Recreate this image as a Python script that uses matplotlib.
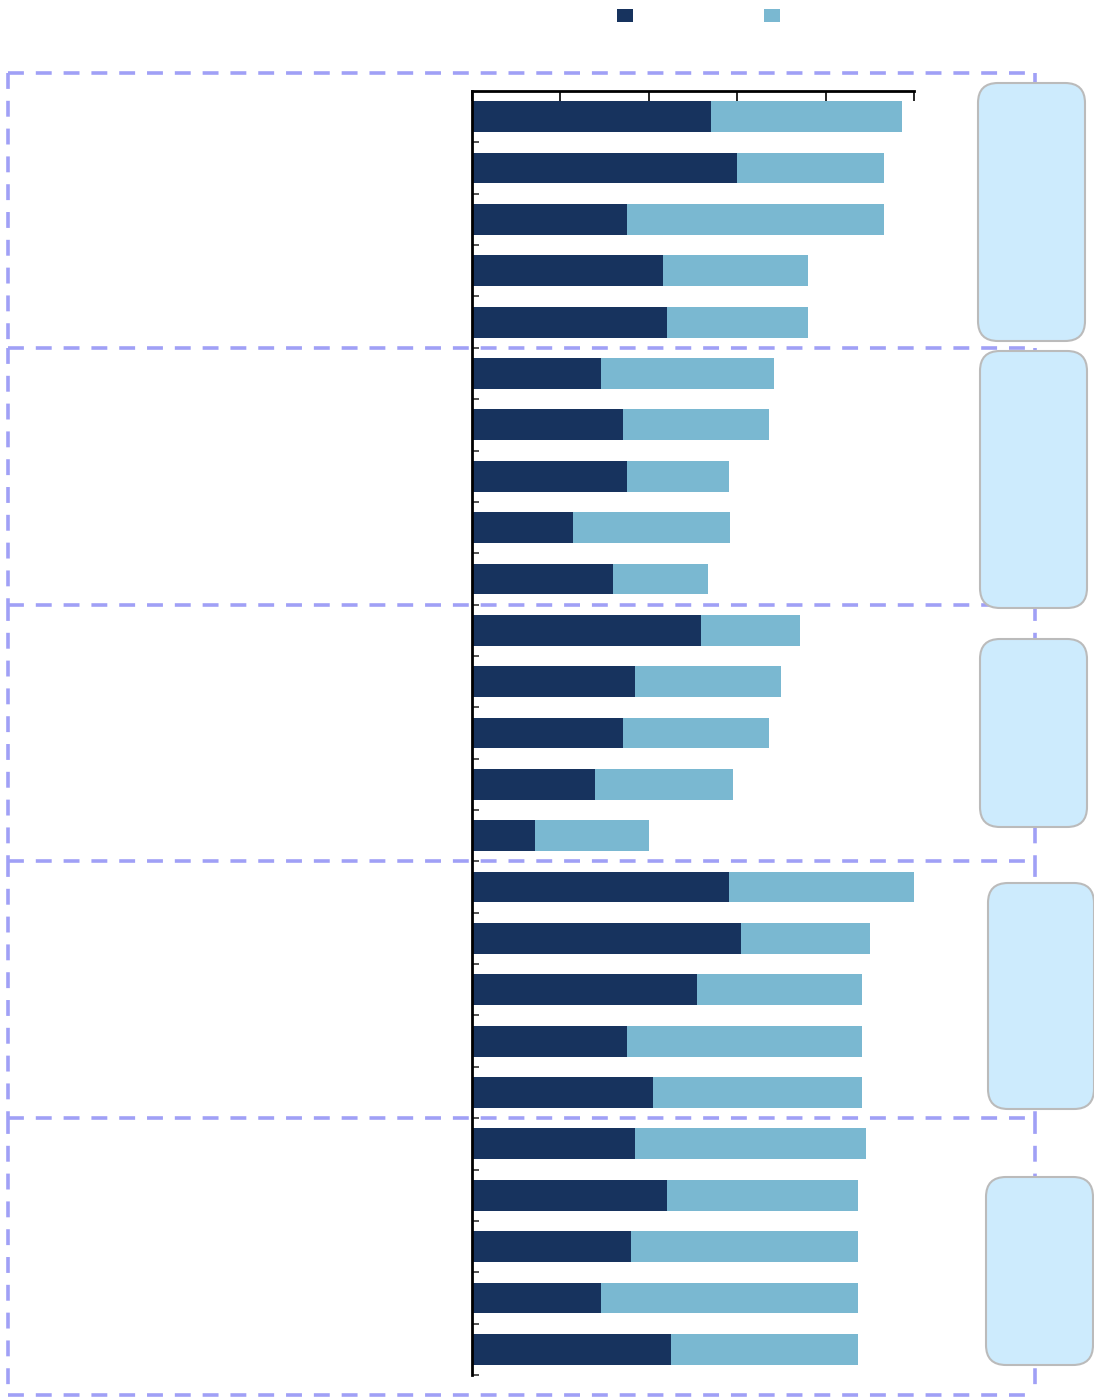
import matplotlib
matplotlib.use("Agg")
import matplotlib.pyplot as plt
import matplotlib.transforms as mtransforms
from matplotlib.patches import FancyBboxPatch, Patch
import numpy as np

# data (scale 0-100)
first_series = [54.1, 60.0, 35.1, 43.2, 44.1,
                29.2, 34.2, 35.1, 22.9, 31.9,
                51.8, 36.9, 34.2, 27.8, 14.3,
                58.1, 60.9, 50.9, 35.1, 41.0,
                36.9, 44.1, 36.0, 29.2, 45.0]
second_series = [43.2, 33.2, 58.1, 32.8, 31.9,
                 39.1, 33.0, 23.0, 35.5, 21.5,
                 22.4, 33.0, 33.0, 31.2, 25.7,
                 41.9, 29.1, 37.3, 53.1, 47.2,
                 52.2, 43.2, 51.3, 58.1, 42.3]
group_sizes = [5, 5, 5, 5, 5]
x_ticks = [0, 20, 40, 60, 80, 100]

dark = "#17335e"
light = "#7ab8d1"
lavender = "#a0a0f6"

fig = plt.figure(figsize=(10.94, 13.97), dpi=100)
W, H = 1094, 1397
ax = fig.add_axes([472 / W, 1 - 1375 / H, 442 / W, 1284 / H])

y = np.arange(len(first_series))
ax.barh(y, first_series, height=0.6, color=dark)
ax.barh(y, second_series, left=first_series, height=0.6, color=light)

ax.set_xlim(0, 100)
ax.set_ylim(len(y) - 0.5, -0.5)
ax.set_xticks(x_ticks)
ax.set_yticks(np.arange(0.5, len(y), 1))
ax.xaxis.tick_top()
ax.tick_params(axis="x", direction="in", length=7, width=1.2,
               labeltop=False, labelbottom=False)
ax.tick_params(axis="y", direction="in", length=5, width=1.2, color="#333333",
               labelleft=False)
for side in ["right", "bottom"]:
    ax.spines[side].set_visible(False)
for side in ["top", "left"]:
    ax.spines[side].set_linewidth(2)

# dashed group frames (x in inches, y in data units)
blend = mtransforms.blended_transform_factory(fig.dpi_scale_trans, ax.transData)
edges = [-0.85] + list(np.cumsum(group_sizes)[:-1] - 0.5) + [24.89]
dash = dict(color=lavender, linewidth=2.6, linestyle=(0, (4.4, 3.3)),
            transform=blend, clip_on=False, zorder=0)
x_left, x_right = 0.08, 10.35
for top, bottom in zip(edges[:-1], edges[1:]):
    ax.plot([x_left, x_right], [top, top], **dash)
    ax.plot([x_left, x_left], [top, bottom], **dash)
    ax.plot([x_right, x_right], [top, bottom], **dash)
ax.plot([x_left, x_right], [edges[-1], edges[-1]], **dash)

# rounded label boxes on the right (pixels: left, top, right, bottom)
boxes = [(978, 83, 1085, 341),
         (980, 351, 1087, 608),
         (980, 639, 1087, 827),
         (988, 883, 1094, 1109),
         (986, 1177, 1093, 1365)]
for x0, y0, x1, y1 in boxes:
    fig.add_artist(FancyBboxPatch((x0 / 100, (H - y1) / 100),
                                  (x1 - x0) / 100, (y1 - y0) / 100,
                                  boxstyle="round,pad=0,rounding_size=0.2",
                                  transform=fig.dpi_scale_trans,
                                  facecolor="#cdebfd", edgecolor="#bbbbbb",
                                  linewidth=1.5, zorder=5))

handles = [Patch(facecolor=dark), Patch(facecolor=light)]
fig.legend(handles, ["", ""], loc="center", ncol=2,
           bbox_to_anchor=(698.5 / W, 1 - 16 / H), frameon=False,
           handlelength=1.1, handleheight=1.1, handletextpad=0,
           columnspacing=9.5)

fig.savefig("out.png", dpi=100)
